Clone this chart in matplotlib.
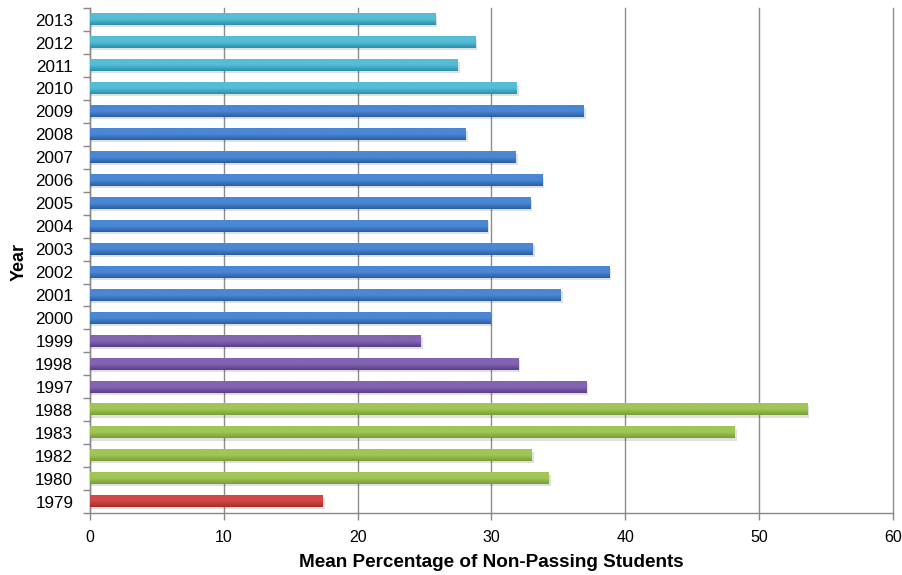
import matplotlib
matplotlib.use("Agg")
import matplotlib.pyplot as plt
import numpy as np
from matplotlib.colors import LinearSegmentedColormap

years = ["2013", "2012", "2011", "2010", "2009", "2008", "2007", "2006", "2005", "2004",
         "2003", "2002", "2001", "2000", "1999", "1998", "1997", "1988", "1983", "1982",
         "1980", "1979"]
values = [25.8, 28.8, 27.5, 31.9, 36.9, 28.1, 31.8, 33.8, 32.9, 29.7,
          33.1, 38.8, 35.2, 29.9, 24.7, 32.0, 37.1, 53.6, 48.2, 33.0,
          34.3, 17.4]
groups = ["c", "c", "c", "c", "b", "b", "b", "b", "b", "b",
          "b", "b", "b", "b", "p", "p", "p", "g", "g", "g",
          "g", "r"]
xticks = [0, 10, 20, 30, 40, 50, 60]

palette = {
    "c": ("#55bdd6", "#2a90ab"),
    "b": ("#4a87d4", "#2b5ea4"),
    "p": ("#8264b2", "#5b3d88"),
    "g": ("#a0c655", "#789e38"),
    "r": ("#d24845", "#a52d2b"),
}

font = "Liberation Sans"

fig = plt.figure(figsize=(9.03, 5.75), dpi=100)
ax = fig.add_axes([0.0997, 0.1078, 0.889, 0.878])

n = len(years)
ypos = np.arange(n)[::-1]
h = 0.5

for y, v, g in zip(ypos, values, groups):
    top, bot = palette[g]
    ax.barh(y - 0.09, v + 0.15, height=h, left=0, color="#000000", alpha=0.12,
            linewidth=0, zorder=2)
    cmap = LinearSegmentedColormap.from_list("g", [bot, top, top])
    grad = np.linspace(0, 1, 32).reshape(-1, 1)
    ax.imshow(grad, cmap=cmap, extent=(0, v, y - h / 2, y + h / 2), origin="lower",
              aspect="auto", zorder=3, interpolation="bilinear")

ax.set_xlim(0, 60)
ax.set_ylim(-0.5, n - 0.5)
ax.set_aspect("auto")
ax.set_xticks(xticks)
ax.set_xticklabels([str(t) for t in xticks], fontsize=11.5, family=font)
ax.set_yticks(ypos)
ax.set_yticklabels(years, fontsize=12.3, family=font)
ax.set_yticks(np.arange(-0.5, n, 1.0), minor=True)
ax.tick_params(axis="y", which="major", length=0, pad=12)
ax.tick_params(axis="y", which="minor", length=5, color="#888888", width=1)
ax.tick_params(axis="x", which="major", length=5, color="#888888", width=1, pad=7)

ax.xaxis.grid(True, color="#8c8c8c", linewidth=1)
for gl in ax.get_xgridlines():
    gl.set_clip_on(False)
ax.set_axisbelow(True)
for s in ["top", "right"]:
    ax.spines[s].set_visible(False)
for s in ["left", "bottom"]:
    ax.spines[s].set_color("#888888")
    ax.spines[s].set_linewidth(1)

ax.set_xlabel("Mean Percentage of Non-Passing Students", fontsize=13.6, fontweight="bold",
              family=font, va="center")
ax.xaxis.set_label_coords(0.5, (513 - 562) / 505)
ax.set_ylabel("Year", fontsize=13, fontweight="bold", family=font, va="center")
ax.yaxis.set_label_coords((19 - 90) / 803, 0.497)

fig.savefig("out.png", dpi=100)
